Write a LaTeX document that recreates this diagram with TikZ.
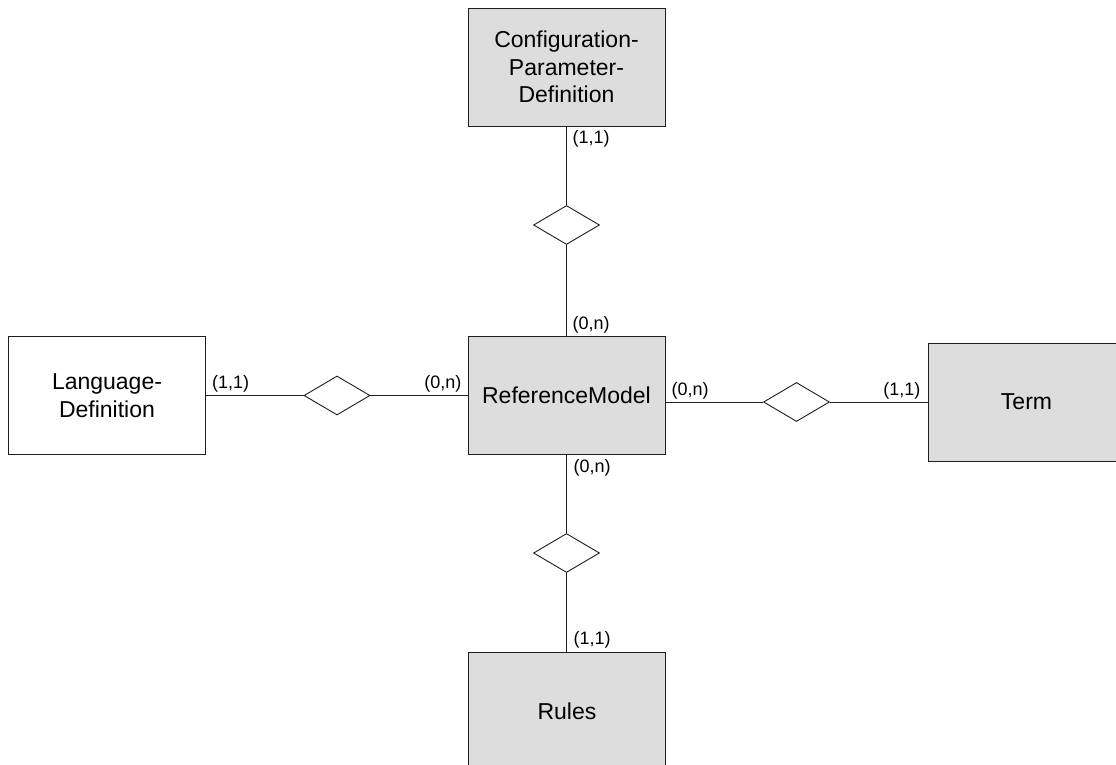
\documentclass[tikz,border=0pt]{standalone}
\usepackage{fontspec}
\setmainfont{Liberation Sans}
\usetikzlibrary{shapes.geometric}
\definecolor{boxgray}{RGB}{221,221,221}
\definecolor{linegray}{RGB}{30,30,30}
\begin{document}
\begin{tikzpicture}[x=1pt,y=-1pt,
  entity/.style={draw=linegray,line width=0.9pt,minimum width=197pt,minimum height=118pt,
    inner sep=0pt,align=center,font=\fontsize{23}{27.5}\selectfont},
  shaded/.style={entity,fill=boxgray},
  rel/.style={diamond,draw=linegray,line width=0.9pt,fill=white,minimum width=66pt,minimum height=39pt,inner sep=0pt},
  card/.style={inner sep=0pt,font=\fontsize{18}{21}\selectfont},
  conn/.style={draw=linegray,line width=0.9pt}]
\useasboundingbox (0,0) rectangle (1116,765);
\begin{scope}
\clip (0,0) rectangle (1116,765);
\node[shaded] (cfg) at (566.5,67) {Configuration-\\Parameter-\\Definition};
\node[shaded] (ref) at (566.5,395.5) {ReferenceModel};
\node[entity] (lang) at (107,395.5) {Language-\\Definition};
\node[shaded] (term) at (1026.5,402) {Term};
\node[shaded] (rules) at (567,711) {Rules};
\node[rel] (d1) at (566.5,225) {};
\node[rel] (d2) at (337,395.5) {};
\node[rel] (d3) at (796.5,402) {};
\node[rel] (d4) at (566.5,553) {};
\draw[conn] (cfg.south) -- (d1.north);
\draw[conn] (d1.south) -- (ref.north);
\draw[conn] (lang.east) -- (d2.west);
\draw[conn] (d2.east) -- (ref.west);
\draw[conn] (ref.east |- d3.west) -- (d3.west);
\draw[conn] (d3.east) -- (term.west);
\draw[conn] (ref.south) -- (d4.north);
\draw[conn] (d4.south) -- (rules.north -| d4.south);
\end{scope}
\node[card,anchor=north west] (c1) at ([xshift=6pt,yshift=-4pt]cfg.south) {(1,1)};
\node[card,anchor=south west] (c2) at ([xshift=6pt,yshift=3pt]ref.north) {(0,n)};
\node[card,anchor=south west] (c3) at ([xshift=6pt,yshift=3pt]lang.east) {(1,1)};
\node[card,anchor=south east] (c4) at ([xshift=-6pt,yshift=3pt]ref.west) {(0,n)};
\node[card,anchor=south west] (c5) at ([xshift=6pt,yshift=3pt]ref.east |- d3.west) {(0,n)};
\node[card,anchor=south east] (c6) at ([xshift=-7pt,yshift=3pt]term.west) {(1,1)};
\node[card,anchor=north west] (c7) at ([xshift=7pt,yshift=-4pt]ref.south) {(0,n)};
\node[card,anchor=south west] (c8) at ([xshift=7pt,yshift=3pt]rules.north -| d4.south) {(1,1)};
\end{tikzpicture}
\end{document}
